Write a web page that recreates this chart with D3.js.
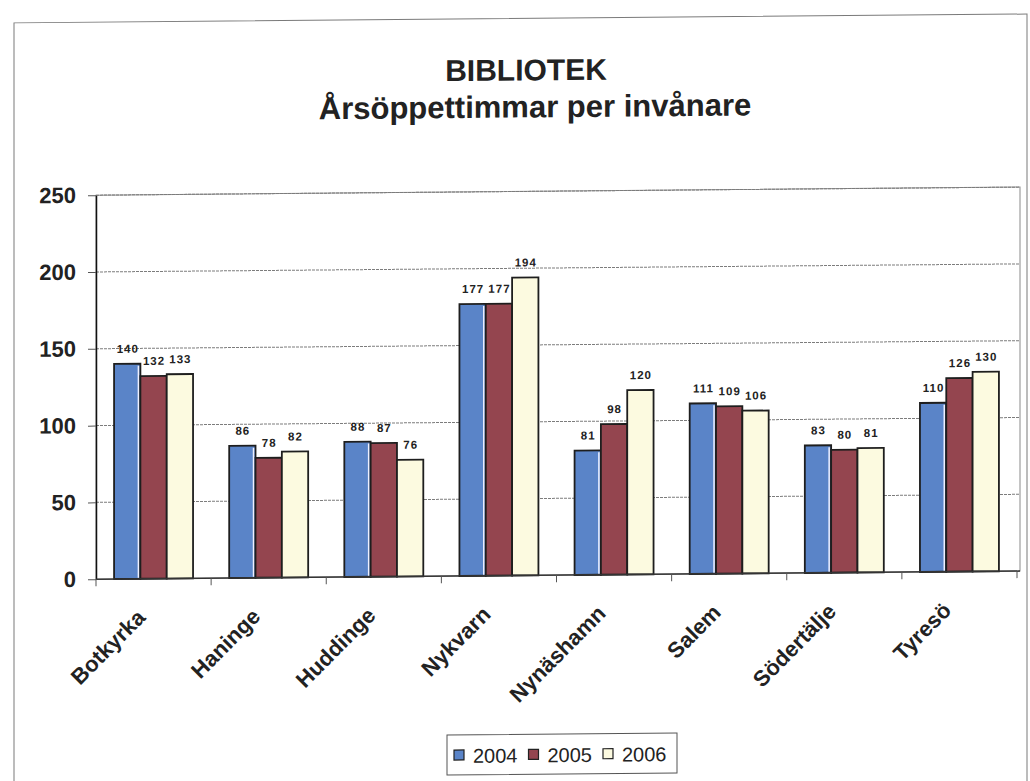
<!DOCTYPE html>
<html>
<head>
<meta charset="utf-8">
<script src="https://cdn.jsdelivr.net/npm/d3@7"></script>
<style>
    body { margin: 0; background: #ffffff; }
    text { font-family: "Liberation Sans", Arial, sans-serif; fill: #222; }
</style>
</head>
<body>
<div id="chart"></div>
<script>
// Data
const municipalities = ["Botkyrka", "Haninge", "Huddinge", "Nykvarn", "Nynäshamn", "Salem", "Södertälje", "Tyresö"];
const years = ["2004", "2005", "2006"];
const values2004 = [140, 86, 88, 177, 81, 111, 83, 110];
const values2005 = [132, 78, 87, 177, 98, 109, 80, 126];
const values2006 = [133, 82, 76, 194, 120, 106, 81, 130];
const yTicks = [0, 50, 100, 150, 200, 250];
const titleText = "BIBLIOTEK";
const subtitleText = "Årsöppettimmar per invånare";

const seriesValues = { "2004": values2004, "2005": values2005, "2006": values2006 };
const colors = { "2004": "#5a84c8", "2005": "#94454f", "2006": "#fcfae0" };

const width = 1030, height = 781;
// plot area (unskewed coordinates)
const plot = { left: 96, right: 1017, top: 196, bottom: 580 };

const svg = d3.select("#chart")
    .append("svg")
    .attr("width", width)
    .attr("height", height);

// scanned page is slightly skewed
const g = svg.append("g")
    .attr("transform", "skewY(-0.5)");

// Outer chart border
g.append("rect")
    .attr("x", 14)
    .attr("y", 23)
    .attr("width", 1013)
    .attr("height", 800)
    .attr("fill", "none")
    .attr("stroke", "#7a7a7a")
    .attr("stroke-width", 1);

// Titles
g.append("text")
    .attr("x", 526)
    .attr("y", 85)
    .attr("text-anchor", "middle")
    .style("font-size", "30px")
    .style("font-weight", "bold")
    .text(titleText);

g.append("text")
    .attr("x", 535)
    .attr("y", 122)
    .attr("text-anchor", "middle")
    .style("font-size", "31px")
    .style("font-weight", "bold")
    .text(subtitleText);

// Scales
const x0 = d3.scaleBand()
    .domain(municipalities)
    .range([plot.left, plot.right])
    .paddingInner(0.314)
    .paddingOuter(0.157);

const x1 = d3.scaleBand()
    .domain(years)
    .range([0, x0.bandwidth()]);

const y = d3.scaleLinear()
    .domain([0, 250])
    .range([plot.bottom, plot.top]);

// Plot area border
g.append("rect")
    .attr("x", plot.left)
    .attr("y", plot.top)
    .attr("width", 1020 - plot.left)
    .attr("height", plot.bottom - plot.top)
    .attr("fill", "none")
    .attr("stroke", "#8a8a8a")
    .attr("stroke-width", 1);

// Gridlines
g.append("g")
    .selectAll("line")
    .data(yTicks.filter(d => d > 0))
    .enter()
    .append("line")
    .attr("x1", plot.left)
    .attr("x2", 1020)
    .attr("y1", d => y(d))
    .attr("y2", d => y(d))
    .attr("stroke", "#7c7c7c")
    .attr("stroke-width", 1)
    .attr("stroke-dasharray", "3,1");

// Bars
const groups = g.append("g")
    .selectAll("g")
    .data(municipalities)
    .enter()
    .append("g")
    .attr("transform", d => `translate(${x0(d)},0)`);

const bars = groups.selectAll("g")
    .data((m, i) => years.map(yr => ({ year: yr, value: seriesValues[yr][i] })))
    .enter()
    .append("g");

bars.append("rect")
    .attr("x", d => x1(d.year))
    .attr("y", d => y(d.value))
    .attr("width", x1.bandwidth())
    .attr("height", d => y(0) - y(d.value))
    .attr("fill", d => colors[d.year])
    .attr("stroke", "#1e1e1e")
    .attr("stroke-width", 1.8);

// light edge on the blue bars
bars.filter(d => d.year === "2004")
    .append("line")
    .attr("x1", d => x1(d.year) + x1.bandwidth() - 2)
    .attr("x2", d => x1(d.year) + x1.bandwidth() - 2)
    .attr("y1", d => y(d.value) + 2)
    .attr("y2", y(0) - 1)
    .attr("stroke", "#eef0ff")
    .attr("stroke-width", 1.5);

// Data labels
bars.append("text")
    .attr("x", d => x1(d.year) + x1.bandwidth() / 2 + 0.5)
    .attr("y", d => y(d.value) - 11)
    .attr("text-anchor", "middle")
    .style("font-size", "11.5px")
    .style("font-weight", "bold")
    .style("letter-spacing", "1px")
    .text(d => d.value);

// Y axis
const yAxis = g.append("g")
    .attr("transform", `translate(${plot.left},0)`)
    .call(d3.axisLeft(y).tickValues(yTicks).tickSize(8).tickPadding(12).tickSizeOuter(0));

yAxis.select(".domain").attr("stroke", "#111").attr("stroke-width", 1.5);
yAxis.selectAll(".tick line").attr("stroke", "#555");
yAxis.selectAll(".tick text")
    .style("font-size", "22px")
    .style("font-weight", "bold")
    .style("font-family", "'Liberation Sans', Arial, sans-serif")
    .attr("fill", "#222");

// X axis line and category ticks
g.append("line")
    .attr("x1", plot.left)
    .attr("x2", 1020)
    .attr("y1", y(0))
    .attr("y2", y(0))
    .attr("stroke", "#333")
    .attr("stroke-width", 1.5);

const step = x0.step();
g.append("g")
    .selectAll("line")
    .data(d3.range(municipalities.length + 1))
    .enter()
    .append("line")
    .attr("x1", i => plot.left + i * step)
    .attr("x2", i => plot.left + i * step)
    .attr("y1", y(0))
    .attr("y2", y(0) + 7)
    .attr("stroke", "#555")
    .attr("stroke-width", 1);

// X labels, rotated
g.append("g")
    .selectAll("text")
    .data(municipalities)
    .enter()
    .append("text")
    .attr("transform", d => `translate(${x0(d) + x0.bandwidth() / 2 - 7},${620}) rotate(-45)`)
    .attr("text-anchor", "end")
    .style("font-size", "22px")
    .style("font-weight", "bold")
    .text(d => d);

// Legend
const legend = g.append("g");
legend.append("rect")
    .attr("x", 447)
    .attr("y", 739)
    .attr("width", 230)
    .attr("height", 40)
    .attr("fill", "#fff")
    .attr("stroke", "#555")
    .attr("stroke-width", 1);

let lx = 454;
years.forEach(yr => {
    legend.append("rect")
        .attr("x", lx)
        .attr("y", 754)
        .attr("width", 10)
        .attr("height", 10)
        .attr("fill", colors[yr])
        .attr("stroke", "#222")
        .attr("stroke-width", 1.2);
    const t = legend.append("text")
        .attr("x", lx + 19)
        .attr("y", 767)
        .style("font-size", "20px")
        .text(yr);
    lx = lx + 19 + t.node().getComputedTextLength() + 11;
});
</script>
</body>
</html>
